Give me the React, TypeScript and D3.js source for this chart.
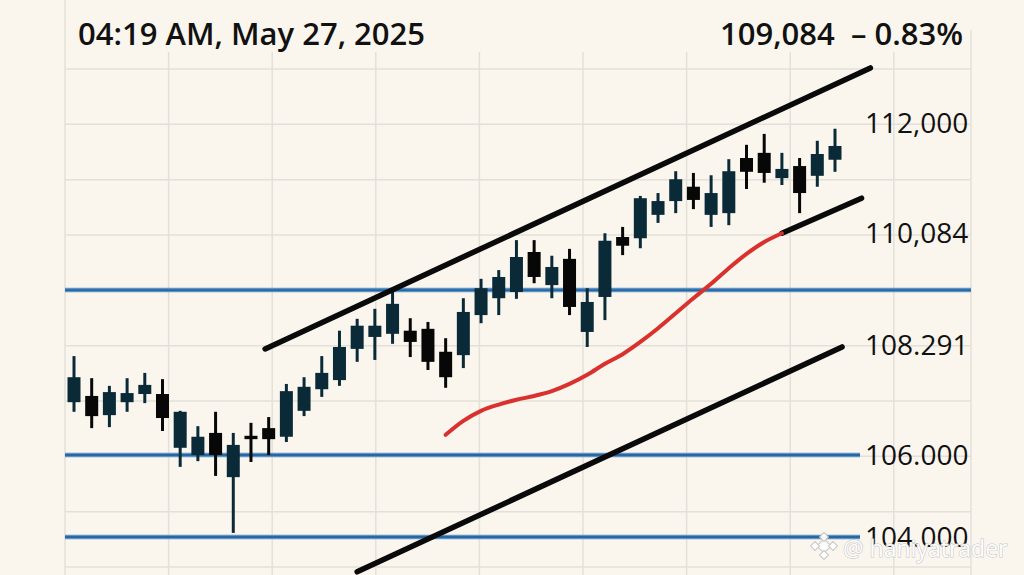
import React from "react";
import * as d3 from "d3";

const W = 1024;
const H = 575;

const titleText = "04:19 AM, May 27, 2025";
const priceText = "109,084";
const changeText = "– 0.83%";
const watermarkText = "@ haniyatrader";

// OHLC candles, one per bar (left to right)
const opens = [107100, 107230, 106830, 107100, 107270, 107270, 106150, 106000, 106460, 105460, 106400, 106560, 106380, 106920, 107370, 107560, 108210, 108420, 108470, 108520, 108550, 108150, 108080, 108770, 109040, 109140, 109780, 109250, 109670, 108500, 109060, 110020, 110000, 110400, 110640, 110890, 110400, 110430, 111390, 111480, 111040, 111250, 111080, 111360];
const highs = [108060, 107600, 107440, 107600, 107710, 107580, 106920, 106600, 106900, 106460, 106670, 106790, 107480, 107620, 108060, 108520, 108710, 108870, 109170, 108720, 108660, 108400, 109040, 109350, 109490, 109970, 109970, 109720, 109830, 109200, 110080, 110190, 110730, 110780, 111160, 111130, 111090, 111370, 111620, 111810, 111480, 111390, 111690, 111900];
const lows = [106900, 106560, 106580, 106900, 107080, 106500, 105710, 105850, 105490, 104100, 105830, 106000, 106270, 106810, 107210, 107440, 107940, 107980, 108310, 108040, 107770, 107400, 107810, 108640, 108770, 109030, 109280, 109040, 108770, 108250, 108690, 109730, 109840, 110260, 110430, 110500, 110190, 110220, 110850, 110960, 110920, 110430, 110890, 111150];
const closes = [107620, 106810, 107310, 107290, 107460, 106770, 106900, 106380, 106000, 106210, 106330, 106330, 107330, 107420, 107710, 108250, 108600, 108600, 108950, 108340, 107940, 107620, 108820, 109200, 109380, 109700, 109380, 109540, 108900, 108980, 109960, 109880, 110690, 110640, 111020, 110660, 110780, 111160, 111150, 111130, 111200, 110780, 111460, 111600];

// Price axis
const tickValues = [112000, 110084, 108291, 106000, 104000];
const tickLabels = ["112,000", "110,084", "108.291", "106.000", "104.000"];

// Horizontal support / resistance levels
const levelPrices = [109170, 106000, 104000];

// Channel trendlines: [candle index, price]
const upperChannel: [number, number][] = [[10.8, 108210], [45, 112960]];
const midChannel: [number, number][] = [[40, 110080], [44.5, 110690]];
const lowerChannel: [number, number][] = [[16, 103150], [43.4, 108250]];

// Red moving curve, starting at candle index 21
const maStart = 21;
const maValues = [106420, 106710, 106920, 107050, 107150, 107230, 107330, 107480, 107670, 107900, 108100, 108340, 108560, 108800, 109040, 109270, 109520, 109750, 109940, 110080];

const FONT = "'Open Sans', 'DejaVu Sans', sans-serif";

export default function App() {
  const x = d3.scaleLinear().domain([0, opens.length - 1]).range([74, 835]);
  const y = d3
    .scaleLinear()
    .domain([104000, 106000, 108291, 110084, 112000])
    .range([537, 455, 345, 233, 123]);

  const gridX = d3.range(9).map((i) => 65 + i * 103.6).concat([971]);
  const gy = d3.scaleLinear().domain([0, 9]).range([69, 567]);
  const gridY = d3.range(10).map((i) => gy(i));

  const line = d3
    .line<[number, number]>()
    .x((d) => x(d[0]))
    .y((d) => y(d[1]));
  const maLine = d3
    .line<number>()
    .x((_, i) => x(maStart + i))
    .y((d) => y(d))
    .curve(d3.curveCatmullRom.alpha(0.5));

  const bodyW = 13;
  const up = "#0b2a38";
  const down = "#070707";

  const logoCx = 824;
  const logoCy = 546;

  return (
    <svg
      width={W}
      height={H}
      style={{ position: "fixed", left: 0, top: 0, display: "block" }}
      xmlns="http://www.w3.org/2000/svg"
    >
      <rect width={W} height={H} fill="#faf6ee" />
      {/* grid */}
      <g stroke="#e3e0d9" strokeWidth={1.5}>
        {gridX.map((gx, i) => (
          <line key={"gx" + i} x1={gx} x2={gx} y1={i === 0 ? 0 : i === gridX.length - 1 ? 30 : 52} y2={H} />
        ))}
        {gridY.map((g, i) => (
          <line key={"gy" + i} x1={65} x2={971} y1={g} y2={g} />
        ))}
      </g>
      {/* levels */}
      {levelPrices.map((p, i) => (
        <g key={"lv" + i}>
          <line x1={65} x2={i === 0 ? 971 : 860} y1={y(p)} y2={y(p)} stroke="#5b95c8" strokeWidth={4.5} />
          <line x1={65} x2={i === 0 ? 971 : 860} y1={y(p)} y2={y(p)} stroke="#2a66a0" strokeWidth={1.8} />
        </g>
      ))}
      {/* candles */}
      {opens.map((o, i) => {
        const c = closes[i];
        const col = c >= o ? up : down;
        const cx = x(i);
        const top = y(Math.max(o, c));
        const bot = y(Math.min(o, c));
        return (
          <g key={"c" + i}>
            <line x1={cx} x2={cx} y1={y(highs[i])} y2={y(lows[i])} stroke={col} strokeWidth={3} />
            <rect x={cx - bodyW / 2} y={top} width={bodyW} height={Math.max(3, bot - top)} fill={col} />
          </g>
        );
      })}
      {/* trendlines */}
      <g fill="none" stroke="#0a0a0a" strokeWidth={5.5} strokeLinecap="round">
        <path d={line(upperChannel) || ""} />
        <path d={line(midChannel) || ""} />
        <path d={line(lowerChannel) || ""} />
      </g>
      <path d={maLine(maValues) || ""} fill="none" stroke="#d8312e" strokeWidth={4} strokeLinecap="round" />
      {/* header */}
      <text x={78} y={45} fontFamily={FONT} fontSize={31} fontWeight={600} fill="#111">
        {titleText}
      </text>
      <text x={720} y={45} fontFamily={FONT} fontSize={31} fontWeight={600} fill="#111">
        {priceText}
      </text>
      <text x={963} y={45} textAnchor="end" fontFamily={FONT} fontSize={31} fontWeight={600} fill="#111">
        {changeText}
      </text>
      {/* axis labels */}
      {tickValues.map((v, i) => (
        <text key={"t" + i} x={865} y={y(v) + 10} fontFamily={FONT} fontSize={28} fontWeight={500} fill="#111">
          {tickLabels[i]}
        </text>
      ))}
      {/* watermark */}
      <g fill="#ffffff" stroke="#c4c4c4" strokeWidth={1} opacity={0.95}>
        {[[0, 0, 5], [-9, 0, 3.2], [9, 0, 3.2], [0, -9, 3.2], [0, 9, 3.2]].map((d, i) => (
          <rect
            key={"lg" + i}
            x={logoCx + d[0] - d[2]}
            y={logoCy + d[1] - d[2]}
            width={d[2] * 2}
            height={d[2] * 2}
            transform={`rotate(45 ${logoCx + d[0]} ${logoCy + d[1]})`}
          />
        ))}
      </g>
      <text
        x={843}
        y={557}
        fontFamily={FONT}
        fontSize={23}
        fill="#ffffff"
        stroke="#c2c2c2"
        strokeWidth={1.1}
        style={{ paintOrder: "stroke" }}
        opacity={0.95}
      >
        {watermarkText}
      </text>
    </svg>
  );
}
